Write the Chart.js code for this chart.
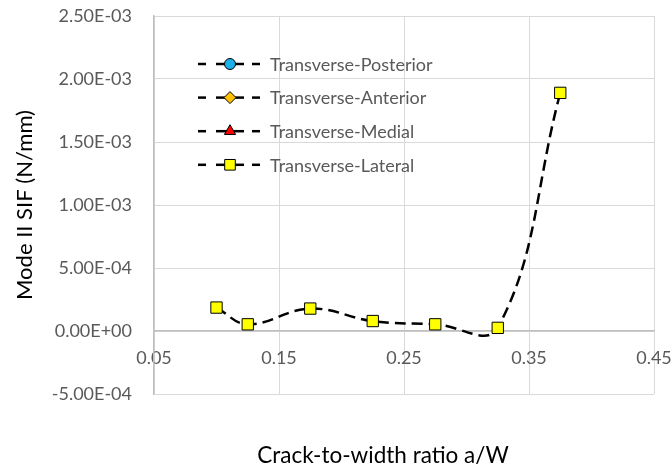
<!DOCTYPE html>
<html>
<head>
<meta charset="utf-8">
<script src="https://cdn.jsdelivr.net/npm/chart.js@4.4.1/dist/chart.umd.min.js"></script>
<style>
  html, body { margin: 0; padding: 0; background: #fff; }
</style>
</head>
<body>
<canvas id="myChart" width="672" height="468"></canvas>
<script>
const ratios = [0.1, 0.125, 0.175, 0.225, 0.275, 0.325, 0.375];
const lateral = [1.86e-4, 5.3e-5, 1.78e-4, 7.9e-5, 5.3e-5, 2.5e-5, 1.89e-3];
// posterior, anterior and medial lie under the lateral curve, none of them shows
const posterior = [];
const anterior = [];
const medial = [];
const seriesNames = ['Transverse-Posterior', 'Transverse-Anterior', 'Transverse-Medial', 'Transverse-Lateral'];
const xTicks = [0.05, 0.15, 0.25, 0.35, 0.45];
const yTicks = [-5e-4, 0, 5e-4, 1e-3, 1.5e-3, 2e-3, 2.5e-3];

// excel style 2.50E-03
function sci(v) {
    if (Math.abs(v) < 1e-12) return '0.00E+00';
    let e = Math.floor(Math.log10(Math.abs(v)) + 1e-9);
    let m = (v / Math.pow(10, e)).toFixed(2);
    return m + 'E' + (e < 0 ? '-' : '+') + String(Math.abs(e)).padStart(2, '0');
}

function toPoints(ys) {
    return ys.map((y, i) => ({ x: ratios[i], y: y }));
}

function makeSet(i, ys, style, fill, radius) {
    return {
        label: seriesNames[i],
        data: toPoints(ys),
        showLine: true,
        tension: 0.4,
        borderColor: '#000',
        borderWidth: 2.5,
        borderDash: [11, 6],
        pointStyle: style,
        pointRadius: radius,
        pointBackgroundColor: fill,
        pointBorderColor: '#000',
        pointBorderWidth: 1
    };
}

const insideLegend = {
    id: 'insideLegend',
    afterDraw(chart) {
        const ctx = chart.ctx;
        chart.data.datasets.forEach((ds, i) => {
            const y = 64 + i * 33.6;
            ctx.save();
            ctx.strokeStyle = '#000';
            ctx.lineWidth = 2.5;
            [[198, 206], [216, 244], [252, 260]].forEach(([a, b]) => {
                ctx.beginPath();
                ctx.moveTo(a, y);
                ctx.lineTo(b, y);
                ctx.stroke();
            });
            ctx.fillStyle = ds.pointBackgroundColor;
            ctx.lineWidth = 1;
            Chart.helpers.drawPoint(ctx, { pointStyle: ds.pointStyle, radius: ds.pointRadius - 0.5, borderWidth: 1, rotation: 0 }, 230, y);
            ctx.fillStyle = '#595959';
            ctx.font = '18px Lato';
            ctx.textBaseline = 'middle';
            ctx.fillText(ds.label, 270, y + 1);
            ctx.restore();
        });

        // x axis title, sits under the plot like in excel
        ctx.save();
        ctx.fillStyle = '#000';
        ctx.font = '22.5px Lato';
        ctx.textAlign = 'center';
        ctx.textBaseline = 'middle';
        ctx.fillText('Crack-to-width ratio a/W', 383, 456);
        ctx.restore();
    }
};

const ctx = document.getElementById('myChart');

new Chart(ctx, {
    type: 'scatter',
    data: {
        datasets: [
            makeSet(0, posterior, 'circle', '#1cb0e8', 6),
            makeSet(1, anterior, 'rectRot', '#ffc000', 6.5),
            makeSet(2, medial, 'triangle', '#ff0000', 7),
            makeSet(3, lateral, 'rect', '#ffff00', 8)
        ]
    },
    options: {
        responsive: false,
        animation: false,
        layout: { padding: { left: 0, right: 18, top: 16, bottom: 74 } },
        plugins: {
            legend: { display: false },
            tooltip: { enabled: false }
        },
        scales: {
            x: {
                type: 'linear',
                position: { y: 0 },
                min: 0.05,
                max: 0.45,
                afterBuildTicks: (scale) => { scale.ticks = xTicks.map(v => ({ value: v })); },
                afterFit: (scale) => { scale.paddingLeft = 0; scale.paddingRight = 0; scale.paddingTop = 0; scale.paddingBottom = 0; },
                ticks: {
                    callback: (v) => v.toFixed(2),
                    color: '#595959',
                    font: { family: 'Lato', size: 18 },
                    padding: 16,
                    maxRotation: 0
                },
                grid: { color: '#d9d9d9', lineWidth: 1, drawTicks: false },
                border: { color: '#bfbfbf', width: 1.5 }
            },
            y: {
                type: 'linear',
                min: -5e-4,
                max: 2.5e-3,
                afterBuildTicks: (scale) => { scale.ticks = yTicks.map(v => ({ value: v })); },
                afterFit: (scale) => { scale.width = 154; scale.paddingTop = 0; scale.paddingBottom = 0; },
                ticks: {
                    callback: (v) => sci(v),
                    color: '#595959',
                    font: { family: 'Lato', size: 18 },
                    padding: 22
                },
                grid: { color: '#d9d9d9', lineWidth: 1, drawTicks: false },
                border: { color: '#bfbfbf', width: 1.5 },
                title: {
                    display: true,
                    text: 'Mode II SIF (N/mm)',
                    color: '#000',
                    font: { family: 'Lato', size: 22 },
                    padding: { top: 12, bottom: 0 }
                }
            }
        }
    },
    plugins: [insideLegend]
});
</script>
</body>
</html>
